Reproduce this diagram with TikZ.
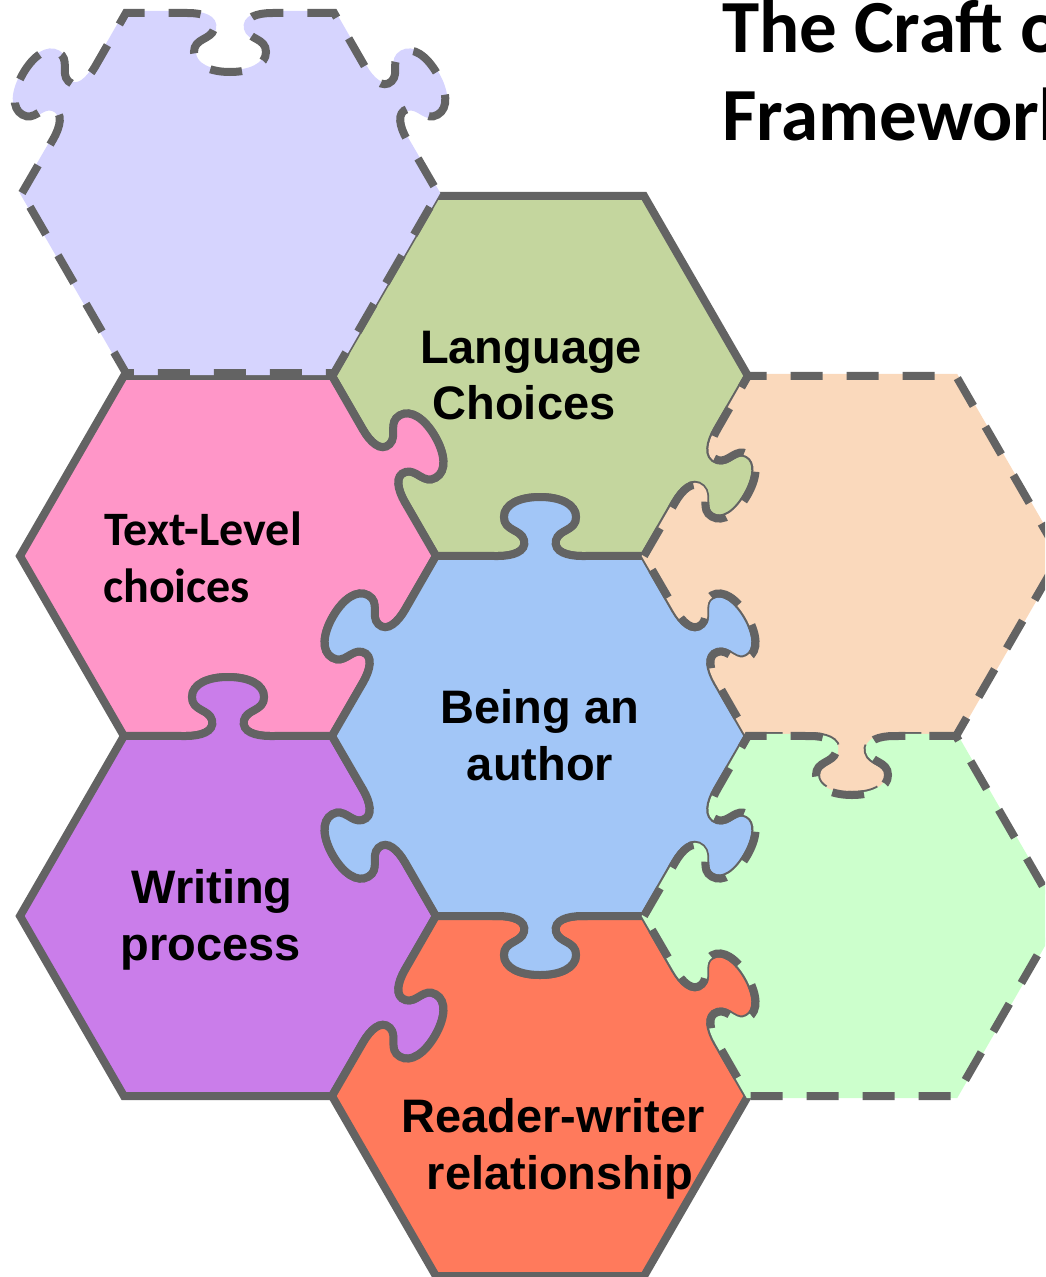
\documentclass[tikz,border=0pt]{standalone}
\usepackage{fontspec}
\usetikzlibrary{calc}
\newfontfamily\labelfont{Liberation Sans}
\newfontfamily\calfont{Carlito}

\definecolor{edgegray}{HTML}{636363}
\definecolor{pcBlue}{HTML}{A2C6F7}
\definecolor{pcGreen}{HTML}{C4D69E}
\definecolor{pcPink}{HTML}{FF96C8}
\definecolor{pcPurple}{HTML}{CA7DEA}
\definecolor{pcRed}{HTML}{FF7A5C}
\definecolor{pcPeach}{HTML}{FAD9BC}
\definecolor{pcMint}{HTML}{CCFFCC}
\definecolor{pcLav}{HTML}{D6D4FE}

% hexagon geometry (1 unit = 1pt, y axis pointing down)
\def\hexR{208}  % circumradius
\def\hexH{180}  % apothem

% point on edge #1 of the current piece: #3 along the edge from its
% midpoint, #4 outward (multiplied by the sign #2: 1 = tab, -1 = socket)
\newcommand\edgept[4]{($(\pcx,\pcy)+({210+60*#1}:\hexH)+({300+60*#1}:#3)+({210+60*#1}:{(#4)*(#2)})$)}
% corner #1 of the current piece (0 = left corner, then clockwise)
\newcommand\hexvx[1]{($(\pcx,\pcy)+({180+60*#1}:\hexR)$)}

% jigsaw tab (or socket) in the middle of edge #1
\newcommand\puzzletab[2]{%
 -- \edgept{#1}{#2}{-42}{0}
 .. controls \edgept{#1}{#2}{-28}{0} and \edgept{#1}{#2}{-13}{4} .. \edgept{#1}{#2}{-16}{16}
 .. controls \edgept{#1}{#2}{-19}{27} and \edgept{#1}{#2}{-36}{25} .. \edgept{#1}{#2}{-36}{39}
 .. controls \edgept{#1}{#2}{-36}{52} and \edgept{#1}{#2}{-20}{59} .. \edgept{#1}{#2}{0}{59}
 .. controls \edgept{#1}{#2}{20}{59} and \edgept{#1}{#2}{36}{52} .. \edgept{#1}{#2}{36}{39}
 .. controls \edgept{#1}{#2}{36}{25} and \edgept{#1}{#2}{19}{27} .. \edgept{#1}{#2}{16}{16}
 .. controls \edgept{#1}{#2}{13}{4} and \edgept{#1}{#2}{28}{0} .. \edgept{#1}{#2}{42}{0}}

% one hexagonal piece: #1 path options, #2,#3 centre, #4..#9 edge kinds
% (edges: upper-left, top, upper-right, lower-right, bottom, lower-left)
\newcommand\puzzlepiece[9]{%
  \def\pcx{#2}\def\pcy{#3}%
  \ifnum#4=0 \def\eA{}\else\def\eA{\puzzletab{0}{#4}}\fi
  \ifnum#5=0 \def\eB{}\else\def\eB{\puzzletab{1}{#5}}\fi
  \ifnum#6=0 \def\eC{}\else\def\eC{\puzzletab{2}{#6}}\fi
  \ifnum#7=0 \def\eD{}\else\def\eD{\puzzletab{3}{#7}}\fi
  \ifnum#8=0 \def\eE{}\else\def\eE{\puzzletab{4}{#8}}\fi
  \ifnum#9=0 \def\eF{}\else\def\eF{\puzzletab{5}{#9}}\fi
  \path[#1] \hexvx{0} \eA -- \hexvx{1} \eB -- \hexvx{2} \eC -- \hexvx{3}
    \eD -- \hexvx{4} \eE -- \hexvx{5} \eF -- cycle;
}
\newcommand\solidpiece[9]{%
  \puzzlepiece{fill=#1,draw=edgegray,line width=8pt}{#2}{#3}{#4}{#5}{#6}{#7}{#8}{#9}}
\newcommand\dashedpiece[9]{%
  \puzzlepiece{fill=#1,draw=#1,line width=4pt}{#2}{#3}{#4}{#5}{#6}{#7}{#8}{#9}%
  \puzzlepiece{draw=edgegray,line width=8pt,dash pattern=on 32pt off 24pt}{#2}{#3}{#4}{#5}{#6}{#7}{#8}{#9}}

\begin{document}
\begin{tikzpicture}[x=1pt,y=-1pt,
  lbl/.style={inner sep=0pt,font=\labelfont\bfseries\fontsize{47}{47}\selectfont},
  tlbl/.style={inner sep=0pt,font=\calfont\bfseries\fontsize{48}{48}\selectfont},
  ttl/.style={inner sep=0pt,font=\calfont\bfseries\fontsize{75}{88}\selectfont}]
\useasboundingbox (0,0) rectangle (1045,1277);
\clip (0,0) rectangle (1045,1277);

% pieces with a solid outline
\solidpiece{pcGreen}{540}{376}{0}{0}{0}{1}{-1}{-1}
\solidpiece{pcPink}{228}{556}{0}{0}{1}{-1}{-1}{0}
\solidpiece{pcPurple}{228}{916}{0}{1}{-1}{1}{0}{0}
\solidpiece{pcRed}{540}{1096}{-1}{-1}{1}{0}{0}{0}
\solidpiece{pcBlue}{540}{736}{1}{1}{1}{1}{1}{1}

% pieces still to be placed, dashed outline
\dashedpiece{pcLav}{230}{193}{1}{-1}{1}{0}{0}{0}
\dashedpiece{pcPeach}{852}{556}{-1}{0}{0}{0}{1}{-1}
\dashedpiece{pcMint}{852}{916}{-1}{-1}{0}{0}{0}{-1}

% labels
\node[lbl,anchor=base] (langA) at (531,363) {Language};
\node[lbl,anchor=base] (langB) at (524,419) {Choices};
\node[tlbl,anchor=base west] (textA) at (104,545) {Text-Level};
\node[tlbl,anchor=base west] (textB) at (103,602) {choices};
\node[lbl,anchor=base] (authA) at (540,723) {Being an};
\node[lbl,anchor=base] (authB) at (540,780) {author};
\node[lbl,anchor=base] (writA) at (212,903) {Writing};
\node[lbl,anchor=base] (writB) at (211,960) {process};
\node[lbl,anchor=base] (readA) at (553,1132) {Reader-writer};
\node[lbl,anchor=base] (readB) at (560,1189) {relationship};

% title (runs past the right edge of the page)
\node[ttl,anchor=base west] (ttlA) at (722,52) {The Craft of};
\node[ttl,anchor=base west] (ttlB) at (722,140) {Framework};
\end{tikzpicture}
\end{document}
